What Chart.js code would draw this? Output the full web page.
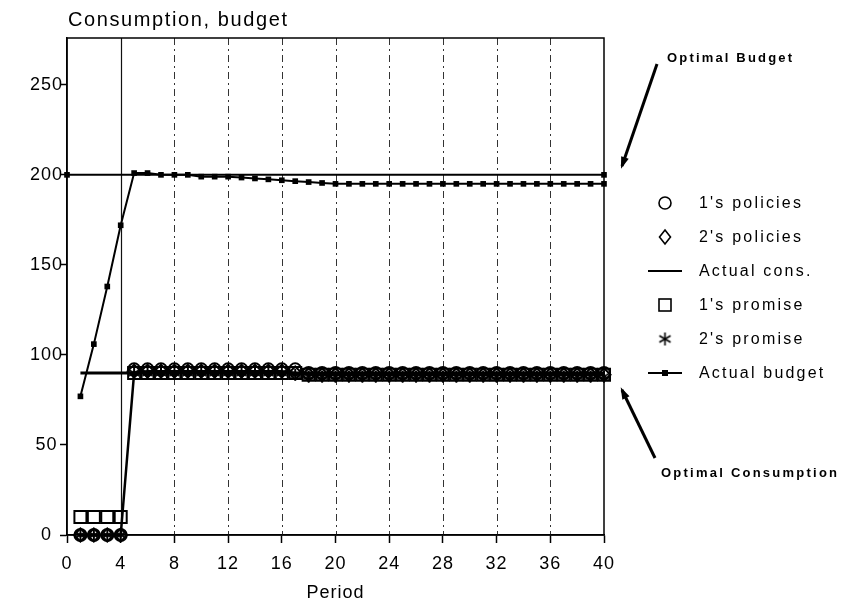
<!DOCTYPE html>
<html>
<head>
<meta charset="utf-8">
<script src="https://cdn.jsdelivr.net/npm/chart.js@4.4.0/dist/chart.umd.min.js"></script>
<style>
html,body{margin:0;padding:0;background:#fff;}
#wrap{width:845px;height:609px;position:relative;}
canvas{display:block;}
</style>
</head>
<body>
<div id="wrap"><canvas id="c" width="845" height="609"></canvas></div>
<script>
// ---------- data ----------
const periods = [1,2,3,4,5,6,7,8,9,10,11,12,13,14,15,16,17,18,19,20,21,22,23,24,25,26,27,28,29,30,31,32,33,34,35,36,37,38,39,40];
const actualBudget = [77,106,138,172,201,201,200,200,200,199,199,199,198.5,198,197.5,197,196.5,196,195.5,195,195,195,195,195,195,195,195,195,195,195,195,195,195,195,195,195,195,195,195,195];
const actualCons   = [0,0,0,0,90,91,91,91,91,91,91,91,91,91,91,91,90,89,89,89,89,89,89,89,89,89,89,89,89,89,89,89,89,89,89,89,89,89,89,89];
const onePolicies  = [0,0,0,0,92,92,92,92,92,92,92,92,92,92,92,92,92,90,90,90,90,90,90,90,90,90,90,90,90,90,90,90,90,90,90,90,90,90,90,90];
const twoPolicies  = [0,0,0,0,91,91,91,91,91,91,91,91,91,91,91,91,90,89,89,89,89,89,89,89,89,89,89,89,89,89,89,89,89,89,89,89,89,89,89,89];
const onePromise   = [10,10,10,10,90,90,90,90,90,90,90,90,90,90,90,90,90,89,89,89,89,89,89,89,89,89,89,89,89,89,89,89,89,89,89,89,89,89,89,89];
const twoPromise   = [0,0,0,0,90,90,90,90,90,90,90,90,90,90,90,90,89,88,88,88,88,88,88,88,88,88,88,88,88,88,88,88,88,88,88,88,88,88,88,88];
const optimalBudgetX = [0, 40];
const optimalBudget  = [200, 200];
const optimalConsX   = [1, 40];
const optimalCons    = [90, 90];
const xTicks = [0,4,8,12,16,20,24,28,32,36,40];
const yTicks = [0,50,100,150,200,250];
const legendLabels = ["1's policies","2's policies","Actual cons.","1's promise","2's promise","Actual budget"];

// ---------- helpers ----------
const FONT = "'Liberation Sans', Arial, Helvetica, sans-serif";
const pts = (xs, ys) => xs.map((x, i) => ({x: x, y: ys[i]}));

function makeAsterisk(size, lw) {
  const c = document.createElement('canvas');
  c.width = size; c.height = size;
  const g = c.getContext('2d');
  const r = size / 2 - 1, cx = size / 2, cy = size / 2;
  g.strokeStyle = '#000'; g.lineWidth = lw; g.lineCap = 'butt';
  [90, 30, 150].forEach(a => {
    const t = a * Math.PI / 180;
    g.beginPath();
    g.moveTo(cx - r * Math.cos(t), cy - r * Math.sin(t));
    g.lineTo(cx + r * Math.cos(t), cy + r * Math.sin(t));
    g.stroke();
  });
  return c;
}
const asteriskPt = makeAsterisk(14, 2);
const asteriskLg = makeAsterisk(15, 1.6);

function drawSpaced(ctx, text, x, y, spacing, align) {
  let total = 0;
  const ws = [];
  for (const ch of text) { const w = ctx.measureText(ch).width; ws.push(w); total += w; }
  total += spacing * (ws.length - 1);
  let cx = align === 'center' ? x - total / 2 : (align === 'right' ? x - total : x);
  ctx.textAlign = 'left';
  let i = 0;
  for (const ch of text) { ctx.fillText(ch, cx, y); cx += ws[i++] + spacing; }
}
function fitSpacing(ctx, text, target) {
  const n = [...text].length;
  let total = 0;
  for (const ch of text) total += ctx.measureText(ch).width;
  return Math.max(0, (target - total) / (n - 1));
}

// ---------- plugins ----------
const spacingPlugin = {
  id: 'spacing',
  beforeUpdate(chart) { try { chart.ctx.letterSpacing = '1px'; } catch (e) {} },
  beforeDraw(chart) { try { chart.ctx.letterSpacing = '1px'; } catch (e) {} }
};

const framePlugin = {
  id: 'frame',
  beforeDatasetsDraw(chart) {
    const ctx = chart.ctx, a = chart.chartArea, xs = chart.scales.x;
    ctx.save();
    xTicks.forEach(v => {
      if (v <= 0 || v >= 40) return;
      const px = Math.round(xs.getPixelForValue(v)) + 0.5;
      if (v === 4) { ctx.setLineDash([]); ctx.strokeStyle = '#111'; ctx.lineWidth = 1.2; }
      else { ctx.setLineDash([7, 4, 2, 4]); ctx.strokeStyle = '#333'; ctx.lineWidth = 1; }
      ctx.beginPath(); ctx.moveTo(px, a.top); ctx.lineTo(px, a.bottom); ctx.stroke();
    });
    ctx.setLineDash([]);
    ctx.strokeStyle = '#000';
    ctx.lineWidth = 1.5;
    ctx.strokeRect(a.left, a.top, a.right - a.left, a.bottom - a.top);
    ctx.restore();
  }
};

const decorPlugin = {
  id: 'decor',
  afterDraw(chart) {
    const ctx = chart.ctx;
    ctx.save();
    try { ctx.letterSpacing = '0px'; } catch (e) {}
    ctx.fillStyle = '#000';
    ctx.strokeStyle = '#000';
    ctx.textBaseline = 'middle';

    // title
    ctx.font = '20px ' + FONT;
    drawSpaced(ctx, 'Consumption, budget', 68, 20, fitSpacing(ctx, 'Consumption, budget', 219), 'left');

    // legend
    const rows = [203, 237, 271, 305, 339, 373];
    const sx = 665, tx = 699;
    ctx.font = '16px ' + FONT;
    legendLabels.forEach((lab, i) => {
      const y = rows[i];
      ctx.lineWidth = 1.6;
      ctx.beginPath();
      if (i === 0) { ctx.arc(sx, y, 6, 0, Math.PI * 2); ctx.stroke(); }
      else if (i === 1) { ctx.moveTo(sx, y - 7); ctx.lineTo(sx + 5.5, y); ctx.lineTo(sx, y + 7); ctx.lineTo(sx - 5.5, y); ctx.closePath(); ctx.stroke(); }
      else if (i === 2) { ctx.lineWidth = 2; ctx.moveTo(sx - 17, y); ctx.lineTo(sx + 17, y); ctx.stroke(); }
      else if (i === 3) { ctx.strokeRect(sx - 6, y - 6, 12, 12); }
      else if (i === 4) { ctx.drawImage(asteriskLg, sx - 7.5, y - 7.5); }
      else { ctx.lineWidth = 2; ctx.moveTo(sx - 17, y); ctx.lineTo(sx + 17, y); ctx.stroke(); ctx.fillRect(sx - 3, y - 3, 6, 6); }
      drawSpaced(ctx, lab, tx, y + 1, 2.2, 'left');
    });

    // annotations
    ctx.font = 'bold 13px ' + FONT;
    drawSpaced(ctx, 'Optimal Budget', 667, 58, fitSpacing(ctx, 'Optimal Budget', 125), 'left');
    drawSpaced(ctx, 'Optimal Consumption', 661, 473, fitSpacing(ctx, 'Optimal Consumption', 176), 'left');
    function arrow(x1, y1, x2, y2) {
      ctx.lineWidth = 3;
      ctx.beginPath(); ctx.moveTo(x1, y1); ctx.lineTo(x2, y2); ctx.stroke();
      const ang = Math.atan2(y2 - y1, x2 - x1), L = 9, W = 4;
      ctx.beginPath();
      ctx.moveTo(x2 + 3 * Math.cos(ang), y2 + 3 * Math.sin(ang));
      ctx.lineTo(x2 - L * Math.cos(ang) + W * Math.sin(ang), y2 - L * Math.sin(ang) - W * Math.cos(ang));
      ctx.lineTo(x2 - L * Math.cos(ang) - W * Math.sin(ang), y2 - L * Math.sin(ang) + W * Math.cos(ang));
      ctx.closePath(); ctx.fill();
    }
    arrow(657, 64, 622, 166);
    arrow(655, 458, 622, 390);
    ctx.restore();
  }
};

// ---------- chart ----------
const tickFont = {family: FONT, size: 18};
const pointCommon = {showLine: false, borderColor: '#000', backgroundColor: 'rgba(0,0,0,0)', clip: false};

new Chart(document.getElementById('c'), {
  type: 'line',
  data: {
    datasets: [
      {label: 'Optimal budget', data: pts(optimalBudgetX, optimalBudget), borderColor: '#000', borderWidth: 2,
       pointStyle: 'rect', pointRadius: 4, pointBackgroundColor: '#000', pointBorderWidth: 0, clip: false},
      {label: 'Optimal consumption', data: pts(optimalConsX, optimalCons), borderColor: '#000', borderWidth: 3,
       pointRadius: 0, clip: false},
      {label: 'Actual budget', data: pts(periods, actualBudget), borderColor: '#000', borderWidth: 2,
       pointStyle: 'rect', pointRadius: 4, pointBackgroundColor: '#000', pointBorderWidth: 0, clip: false},
      {label: 'Actual cons.', data: pts(periods, actualCons), borderColor: '#000', borderWidth: 2.5,
       pointRadius: 0, clip: false},
      Object.assign({label: "1's policies", data: pts(periods, onePolicies), pointStyle: 'circle', pointRadius: 6, pointBorderWidth: 2, pointBorderColor: '#000', pointBackgroundColor: 'rgba(0,0,0,0)'}, pointCommon),
      Object.assign({label: "2's policies", data: pts(periods, twoPolicies), pointStyle: 'rectRot', pointRadius: 6.5, pointBorderWidth: 2, pointBorderColor: '#000', pointBackgroundColor: 'rgba(0,0,0,0)'}, pointCommon),
      Object.assign({label: "1's promise", data: pts(periods, onePromise), pointStyle: 'rect', pointRadius: 8.5, pointBorderWidth: 2, pointBorderColor: '#000', pointBackgroundColor: 'rgba(0,0,0,0)'}, pointCommon),
      Object.assign({label: "2's promise", data: pts(periods, twoPromise), pointStyle: asteriskPt, pointRadius: 7}, pointCommon)
    ]
  },
  options: {
    responsive: false,
    animation: false,
    devicePixelRatio: 1,
    layout: {padding: {top: 38, right: 241, bottom: 0, left: 0}},
    plugins: {legend: {display: false}, tooltip: {enabled: false}, title: {display: false}},
    elements: {line: {tension: 0}},
    scales: {
      x: {
        type: 'linear', min: 0, max: 40,
        afterBuildTicks: s => { s.ticks = xTicks.map(v => ({value: v})); },
        afterFit: s => { s.height = 74; },
        ticks: {font: tickFont, color: '#000', padding: 10, maxRotation: 0, autoSkip: false},
        grid: {drawOnChartArea: false, drawTicks: true, tickLength: 8, tickColor: '#000', tickWidth: 1.5},
        border: {display: true, color: '#000', width: 1.5},
        title: {display: true, text: 'Period', font: tickFont, color: '#000', padding: {top: 0, bottom: 5}}
      },
      y: {
        type: 'linear', min: 0, max: 276,
        afterBuildTicks: s => { s.ticks = yTicks.map(v => ({value: v})); },
        afterFit: s => { s.width = 67; },
        ticks: {font: tickFont, color: '#000', padding: -3, crossAlign: 'center', autoSkip: false},
        grid: {drawOnChartArea: false, drawTicks: true, tickLength: 7, tickColor: '#000', tickWidth: 1.5},
        border: {display: true, color: '#000', width: 1.5}
      }
    }
  },
  plugins: [spacingPlugin, framePlugin, decorPlugin]
});
</script>
</body>
</html>
